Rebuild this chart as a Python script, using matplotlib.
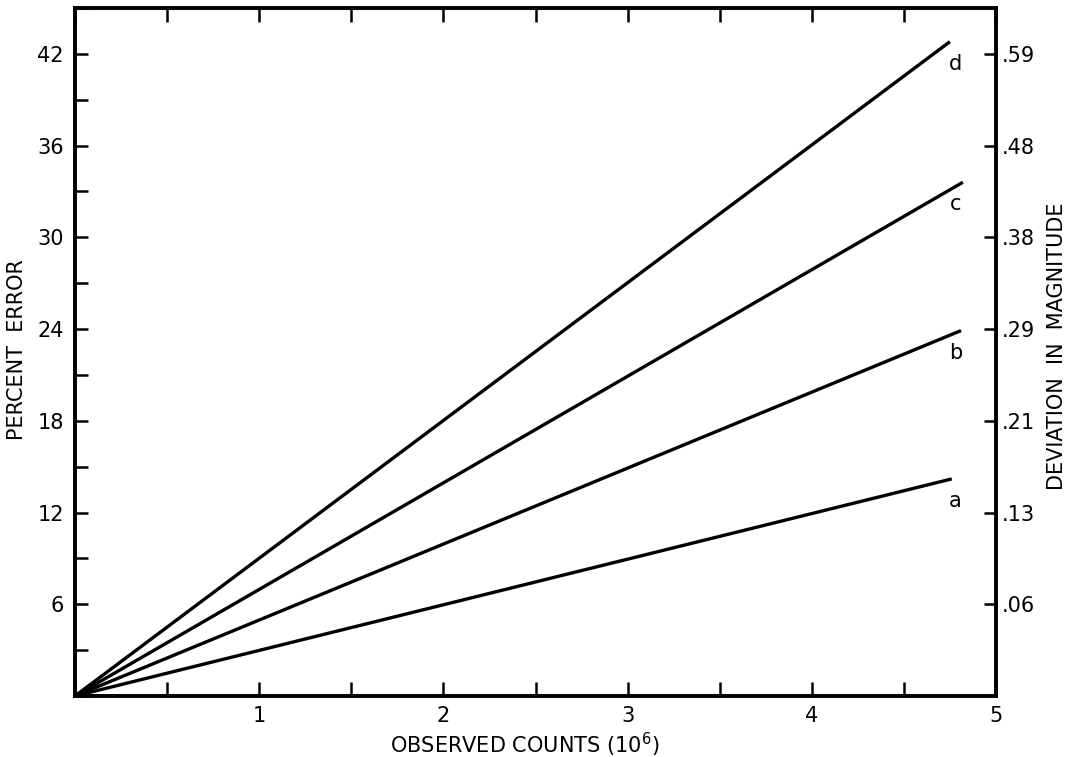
import matplotlib
matplotlib.use("Agg")
import matplotlib.pyplot as plt
from matplotlib.ticker import MultipleLocator, FixedLocator

# Data
series_labels = ["a", "b", "c", "d"]
x_start = [0.0, 0.0, 0.0, 0.0]
y_start = [0.0, 0.0, 0.0, 0.0]
x_end = [4.76, 4.81, 4.82, 4.75]
y_end = [14.2, 23.9, 33.6, 42.8]

left_ticks = [6, 12, 18, 24, 30, 36, 42]
right_tick_labels = [".06", ".13", ".21", ".29", ".38", ".48", ".59"]
x_ticks = [1, 2, 3, 4, 5]

plt.rcParams['font.family'] = ['DejaVu Sans']

W, H = 1066, 757
fig = plt.figure(figsize=(W / 100, H / 100), dpi=100)
ax = fig.add_axes([75/W, 1 - 696/H, (996-75)/W, (696-8)/H])

for xs, ys, xe, ye, lab in zip(x_start, y_start, x_end, y_end, series_labels):
    ax.plot([xs, xe], [ys, ye], color="black", lw=2.4, solid_capstyle="butt")
    ax.text(4.78, ye - 1.45, lab, fontsize=15, ha="center", va="center")

ax.set_xlim(0, 5)
ax.set_ylim(0, 45)

for s in ax.spines.values():
    s.set_linewidth(2.6)

ax.xaxis.set_major_locator(FixedLocator(x_ticks))
ax.xaxis.set_minor_locator(MultipleLocator(0.5))
ax.yaxis.set_major_locator(FixedLocator(left_ticks))
ax.yaxis.set_minor_locator(MultipleLocator(3))
ax.set_xticklabels([str(v) for v in x_ticks])
ax.set_yticklabels([str(v) for v in left_ticks])

ax.tick_params(axis="x", which="both", direction="in", top=True, bottom=True,
               length=10, width=1.8, labelsize=15, pad=7)
ax.tick_params(axis="y", which="both", direction="in", left=True, right=False,
               length=9, width=1.8, labelsize=15, pad=8)

ax2 = ax.twinx()
ax2.set_ylim(ax.get_ylim())
ax2.yaxis.set_major_locator(FixedLocator(left_ticks))
ax2.set_yticklabels(right_tick_labels)
ax2.tick_params(axis="y", direction="in", length=9, width=1.8, labelsize=15, pad=4)
for s in ax2.spines.values():
    s.set_linewidth(2.6)

fig.text(525/W, 1 - 745/H, "OBSERVED COUNTS (10$^{6}$)", fontsize=15,
         ha="center", va="center")
fig.text(17/W, 1 - 350/H, "PERCENT  ERROR", fontsize=15, rotation=90,
         ha="center", va="center")
fig.text(1057/W, 1 - 346/H, "DEVIATION  IN  MAGNITUDE", fontsize=15, rotation=90,
         ha="center", va="center")

fig.savefig("out.png", dpi=100)
